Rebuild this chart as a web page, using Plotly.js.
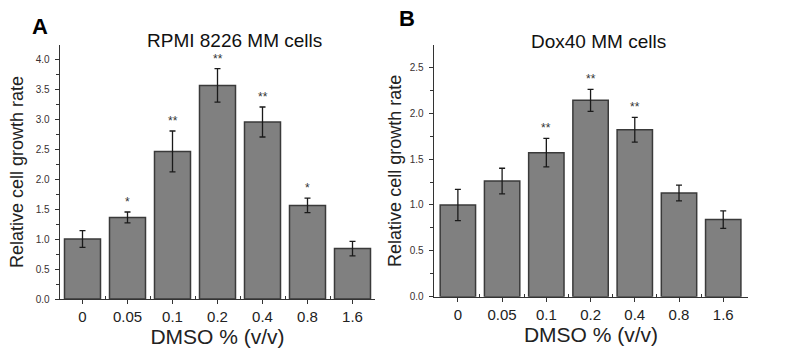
<!DOCTYPE html>
<html>
<head>
<meta charset="utf-8">
<script src="https://cdn.plot.ly/plotly-3.0.1.min.js"></script>
<style>html,body{margin:0;padding:0;background:#fff;}#chart{width:796px;height:364px;}</style>
</head>
<body>
<div id="chart"></div>
<script>
// ---- data ----
const categories = ['0', '0.05', '0.1', '0.2', '0.4', '0.8', '1.6'];
const rpmiValues = [1.00, 1.36, 2.46, 3.56, 2.95, 1.56, 0.84];
const rpmiErrors = [0.14, 0.09, 0.34, 0.28, 0.25, 0.12, 0.12];
const rpmiSig    = ['', '*', '**', '**', '**', '*', ''];
const doxValues  = [1.00, 1.26, 1.57, 2.14, 1.82, 1.13, 0.84];
const doxErrors  = [0.17, 0.14, 0.155, 0.12, 0.135, 0.085, 0.095];
const doxSig     = ['', '', '**', '**', '**', '', ''];
const panelTitles = ['RPMI 8226 MM cells', 'Dox40 MM cells'];
const panelLetters = ['A', 'B'];
const xTitle = 'DMSO % (v/v)';
const yTitle = 'Relative cell growth rate';

// ---- layout helpers ----
const W = 796, H = 364;
const px = x => x / W;
const py = y => 1 - y / H;
const pos = categories.map((c, i) => i);
const FONT = 'Liberation Sans, Arial, sans-serif';

function barTrace(vals, errs, xa, ya) {
  return {
    type: 'bar', x: pos, y: vals, xaxis: xa, yaxis: ya, width: 0.8,
    marker: {color: '#808080', line: {color: '#3a3a3a', width: 1.5}},
    error_y: {type: 'data', array: errs, visible: true, color: '#1a1a1a', thickness: 1.3, width: 3},
    showlegend: false, hoverinfo: 'y'
  };
}

const data = [
  barTrace(rpmiValues, rpmiErrors, 'x', 'y'),
  barTrace(doxValues, doxErrors, 'x2', 'y2')
];

function xAxis(domain, range, anchor) {
  return {
    domain: domain, range: range, anchor: anchor,
    tickmode: 'array', tickvals: pos, ticktext: categories,
    ticks: 'outside', ticklen: 4, tickwidth: 1, tickcolor: '#333',
    minor: {tickmode: 'array', tickvals: pos.slice(0, -1).map(p => p + 0.5), ticks: 'inside', ticklen: 3, tickcolor: '#333', tickwidth: 1},
    showline: true, linecolor: '#333', linewidth: 1.3,
    showgrid: false, zeroline: false,
    tickfont: {family: FONT, size: 15, color: '#222'},
    title: {text: xTitle, font: {family: FONT, size: 21, color: '#222'}, standoff: 3},
    fixedrange: true
  };
}
function yAxis(domain, range, anchor, standoff) {
  return {
    domain: domain, range: range, anchor: anchor,
    tickmode: 'linear', tick0: 0, dtick: 0.5, tickformat: '.1f',
    ticks: 'outside', ticklen: 4, tickwidth: 1, tickcolor: '#333',
    minor: {dtick: 0.25, ticks: 'outside', ticklen: 3, tickcolor: '#333', tickwidth: 1},
    showline: true, linecolor: '#333', linewidth: 1.3,
    showgrid: false, zeroline: false,
    tickfont: {family: FONT, size: 10, color: '#3a3030'},
    ticklabelstandoff: 3,
    title: {text: yTitle, font: {family: FONT, size: 18, color: '#222'}, standoff: standoff},
    fixedrange: true
  };
}

const annotations = [];
function sigAnn(vals, errs, sig, xr, yr) {
  sig.forEach((s, i) => {
    if (!s) return;
    annotations.push({
      xref: xr, yref: yr, x: pos[i], y: vals[i] + errs[i], text: s,
      showarrow: false, yanchor: 'bottom', yshift: 1,
      font: {family: FONT, size: 12, color: '#333'}
    });
  });
}
sigAnn(rpmiValues, rpmiErrors, rpmiSig, 'x', 'y');
sigAnn(doxValues, doxErrors, doxSig, 'x2', 'y2');

annotations.push({xref: 'paper', yref: 'paper', x: px(234), y: py(40), text: panelTitles[0], showarrow: false,
  xanchor: 'center', yanchor: 'middle', font: {family: FONT, size: 19, color: '#111'}});
annotations.push({xref: 'paper', yref: 'paper', x: px(598), y: py(41), text: panelTitles[1], showarrow: false,
  xanchor: 'center', yanchor: 'middle', font: {family: FONT, size: 19, color: '#111'}});
annotations.push({xref: 'paper', yref: 'paper', x: px(40), y: py(27), text: '<b>' + panelLetters[0] + '</b>', showarrow: false,
  xanchor: 'center', yanchor: 'middle', font: {family: FONT, size: 22, color: '#000'}});
annotations.push({xref: 'paper', yref: 'paper', x: px(407), y: py(18), text: '<b>' + panelLetters[1] + '</b>', showarrow: false,
  xanchor: 'center', yanchor: 'middle', font: {family: FONT, size: 22, color: '#000'}});

const layout = {
  width: W, height: H,
  margin: {l: 0, r: 0, t: 0, b: 0},
  paper_bgcolor: '#fff', plot_bgcolor: 'rgba(0,0,0,0)',
  font: {family: FONT},
  showlegend: false,
  xaxis: xAxis([px(60), px(375)], [-0.5, 6.5], 'y'),
  yaxis: yAxis([1 - 299 / H, 1 - 45 / H], [0, 254 / 60], 'x', 7),
  xaxis2: xAxis([px(434), px(748)], [-0.54, 6.56], 'y2'),
  yaxis2: yAxis([1 - 296.7 / H, 1 - 45 / H], [0, 251.7 / 91.76], 'x2', 3),
  annotations: annotations
};

Plotly.newPlot('chart', data, layout, {displayModeBar: false, staticPlot: true});
</script>
</body>
</html>
